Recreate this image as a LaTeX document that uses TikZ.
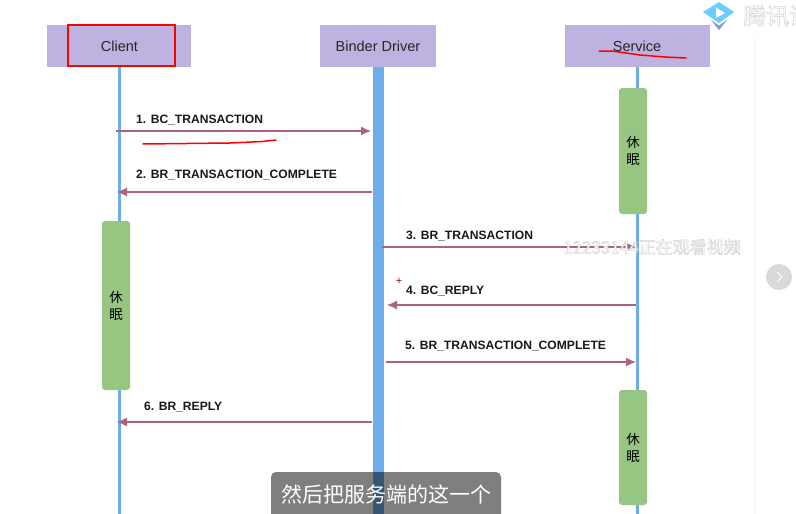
\documentclass[tikz,border=0pt]{standalone}
\usepackage{fontspec}
\usepackage{xcolor}
\setmainfont{Liberation Sans}
\newfontfamily\cjkfont{Noto Sans CJK SC}
\usetikzlibrary{arrows.meta, positioning, calc}
\definecolor{headercolor}{RGB}{190, 178, 224}
\definecolor{railcolor}{RGB}{110, 173, 235}
\definecolor{sleepcolor}{RGB}{150, 198, 130}
\definecolor{msgcolor}{RGB}{172, 100, 130}
\definecolor{logotop}{RGB}{105, 205, 255}
\definecolor{logobottom}{RGB}{130, 150, 220}

\begin{document}
\begin{tikzpicture}[
    x=1pt, y=-1pt,
    header/.style={fill=headercolor, minimum height=42pt, inner sep=0pt, font=\fontsize{14.5}{16}\selectfont, text=black!85},
    sleepbar/.style={fill=sleepcolor, rounded corners=3pt, minimum width=28pt, inner sep=0pt, align=center, font=\cjkfont\fontsize{13.5}{17}\selectfont},
    msg/.style={-{Latex[length=10pt,width=9pt]}, draw=msgcolor, line width=1.2pt},
    msglabel/.style={anchor=west, inner sep=0pt, font=\bfseries\fontsize{12.1}{14}\selectfont, text=black!90},
    scrawl/.style={draw=red, line width=1.5pt, line cap=round},
    rail/.style={draw=railcolor, line width=3pt}
]
    \useasboundingbox (0,0) rectangle (796,514);
    \fill[white] (0,0) rectangle (796,514);
    \draw[black!4] (754,0) -- (754,514);

    % Headers
    \node[header, minimum width=144pt] (client) at (119,46) {\hspace{1pt}Client};
    \node[header, minimum width=116pt] (binder) at (378,46) {Binder Driver};
    \node[header, minimum width=145pt] (service) at (637,46) {Service};

    % Rails
    \coordinate (clientend) at (119,514);
    \coordinate (binderend) at (378.5,514);
    \coordinate (serviceend) at (637,514);
    \draw[rail] (client.south) -- (clientend);
    \draw[draw=railcolor, line width=11.5pt] (binder.south -| binderend) -- (binderend);
    \draw[rail] (service.south) -- (serviceend);

    % Sleeping
    \node[sleepbar, minimum height=169pt] (sleepa) at (116,305.5) {休\\眠};
    \node[sleepbar, minimum height=126pt] (sleepb) at (633,151) {休\\眠};
    \node[sleepbar, minimum height=115pt] (sleepc) at (633,447.5) {休\\眠};

    % Ends of the messages
    \coordinate (ma) at (116,131);  \coordinate (mb) at (371,131);
    \coordinate (mc) at (372,192);  \coordinate (md) at (117,192);
    \coordinate (me) at (382,247);  \coordinate (mf) at (636,247);
    \coordinate (mg) at (636,305);  \coordinate (mh) at (387,305);
    \coordinate (mi) at (386,362);  \coordinate (mj) at (636,362);
    \coordinate (mk) at (372,422);  \coordinate (ml) at (117,422);

    % Arrows
    \draw[msg] (ma) -- (mb);
    \draw[msg] (mc) -- (md);
    \draw[msg] (me) -- (mf);
    \draw[msg] (mg) -- (mh);
    \draw[msg] (mi) -- (mj);
    \draw[msg] (mk) -- (ml);

    % Labels
    \node[msglabel] (la) at (136,120.5) {1. BC\_TRANSACTION};
    \node[msglabel] (lb) at (136,175) {2. BR\_TRANSACTION\_COMPLETE};
    \node[msglabel] (lc) at (406,236) {3. BR\_TRANSACTION};
    \node[msglabel] (ld) at (406,291) {4. BC\_REPLY};
    \node[msglabel] (le) at (405,346) {5. BR\_TRANSACTION\_COMPLETE};
    \node[msglabel] (lf) at (144,407) {6. BR\_REPLY};

    % Red marks
    \node[draw=red, line width=1.3pt, minimum width=107pt, minimum height=41pt, inner sep=0pt] (mark) at (121.5,45.5) {};
    \draw[scrawl] (143,144) -- (230,143) -- (262,141.5) -- (276,140);
    \draw[scrawl] (599,51) -- (612,51) -- (640,55) -- (665,57) -- (686,58);

    % Player overlay
    \fill[white] (738,0) rectangle (796,36);
    \fill[logobottom] (711,20) -- (719,30) -- (727,20) -- cycle;
    \fill[white] (708,17.5) -- (719,25.5) -- (730,17.5) -- cycle;
    \fill[logotop] (703,12) -- (719,2) -- (734,12) -- (719,23) -- cycle;
    \fill[white] (716,7.5) -- (725,13) -- (716,18) -- cycle;
    \node[anchor=west, inner sep=0pt, font=\cjkfont\fontsize{23}{25}\selectfont] (brand) at (743,16) {\special{pdf:code q 2 Tr 0.5 w 0.82 G 1 g}腾讯课\special{pdf:code Q}};
    \node[anchor=west, inner sep=0pt, font=\cjkfont\fontsize{17}{19}\selectfont] (viewer) at (563,247) {\special{pdf:code q 2 Tr 0.5 w 0.82 G 1 g}12233144正在观看视频\special{pdf:code Q}};
    \node[circle, fill=black!15, minimum size=26pt, inner sep=0pt] (nextbtn) at (779,277) {};
    \draw[white, line width=1pt] (777,272) -- (782,277) -- (777,282);
    \node[inner sep=0pt, text=red!60!black, font=\fontsize{11}{11}\selectfont] (cursor) at (399,281) {+};

    % Subtitle
    \node[fill=black, fill opacity=0.5, rounded corners=5pt, minimum width=230pt, minimum height=50pt, inner sep=0pt] (subbox) at (386,497) {};
    \node[inner sep=0pt, text=white, font=\cjkfont\fontsize{21}{23}\selectfont] (subtitle) at (386,494) {然后把服务端的这一个};
\end{tikzpicture}
\end{document}
